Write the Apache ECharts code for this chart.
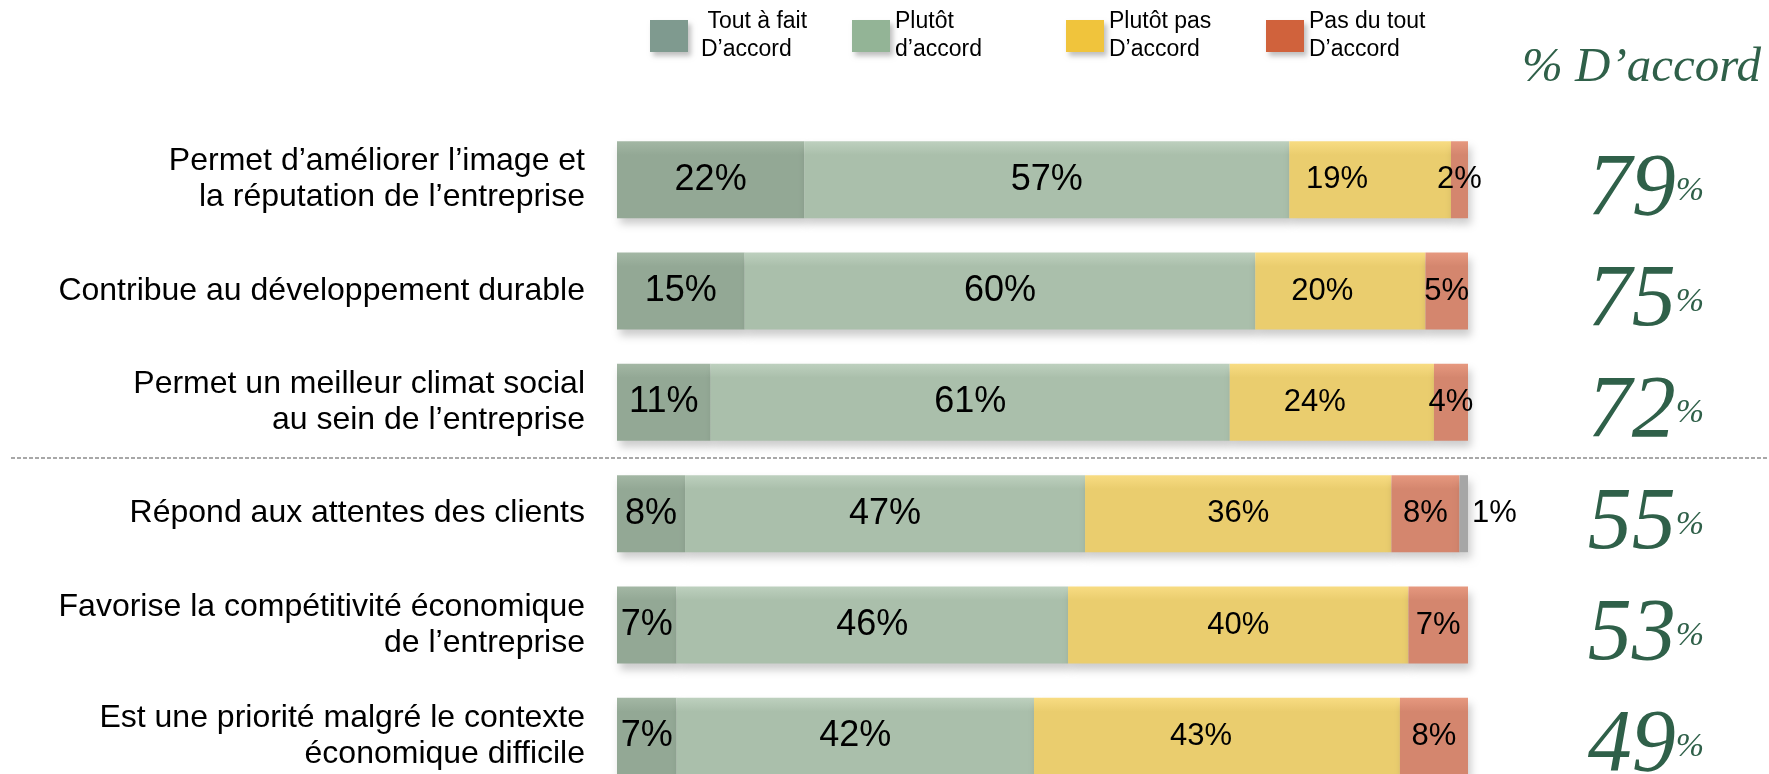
<!DOCTYPE html>
<html>
<head>
<meta charset="utf-8">
<script src="https://cdn.jsdelivr.net/npm/echarts/dist/echarts.min.js"></script>
<style>
  html, body { margin: 0; padding: 0; background: #fff; }
  #main { width: 1769px; height: 774px; }
</style>
</head>
<body>
<div id="main"></div>
<script>
// questions (lignes)
var categories = [
  'Permet d’améliorer l’image et\nla réputation de l’entreprise',
  'Contribue au développement durable',
  'Permet un meilleur climat social\nau sein de l’entreprise',
  'Répond aux attentes des clients',
  'Favorise la compétitivité économique\nde l’entreprise',
  'Est une priorité malgré le contexte\néconomique difficile'
];
// réponses en %
var toutAFait = [22, 15, 11, 8, 7, 7];
var plutot = [57, 60, 61, 47, 46, 42];
var plutotPas = [19, 20, 24, 36, 40, 43];
var pasDuTout = [2, 5, 4, 8, 7, 8];
var nsp = [0, 0, 0, 1, 0, 0];
// % D'accord (colonne de droite)
var totalAccord = ['79', '75', '72', '55', '53', '49'];
var seriesNames = [' Tout à fait\nD’accord', 'Plutôt\nd’accord', 'Plutôt pas\nD’accord', 'Pas du tout\nD’accord'];

var SANS = 'Liberation Sans';
var SERIF = 'Liberation Serif';
var GREEN = '#2f6049';

// décalage manuel des étiquettes jaunes (comme sur la diapo)
var yellowLabelShift = [-33, -18, -17, 0, 0, -16];

function grad(top, base) {
  return new echarts.graphic.LinearGradient(0, 0, 0, 1, [
    { offset: 0, color: top },
    { offset: 0.18, color: base },
    { offset: 1, color: base }
  ]);
}
function pct(p) {
  return p.value ? p.value + '%' : '';
}
var shadow = {
  shadowBlur: 8,
  shadowOffsetX: 3,
  shadowOffsetY: 6,
  shadowColor: 'rgba(0,0,0,0.2)'
};

function barSeries(name, data, top, base, size) {
  return {
    name: name,
    type: 'bar',
    stack: 'total',
    barWidth: 77,
    data: data,
    itemStyle: Object.assign({ color: grad(top, base) }, shadow),
    label: {
      show: true,
      position: 'inside',
      formatter: pct,
      color: '#000',
      fontFamily: SANS,
      fontSize: size
    },
    emphasis: { disabled: true }
  };
}

// légende : une par item pour placer chaque carré
var legendX = [650, 852, 1066, 1266];
var legendColors = ['#7f9a8f', '#93b496', '#f0c43c', '#d0623c'];
var legends = seriesNames.map(function (n, i) {
  return {
    data: [{ name: n, itemStyle: { color: legendColors[i] } }],
    left: legendX[i],
    top: 8,
    padding: 0,
    icon: 'rect',
    itemWidth: 38,
    itemHeight: 32,
    selectedMode: false,
    itemStyle: { shadowBlur: 5, shadowOffsetX: 3, shadowOffsetY: 4, shadowColor: 'rgba(0,0,0,0.25)' },
    textStyle: {
      fontFamily: SANS, fontSize: 23, lineHeight: 28, color: '#000',
      padding: i == 0 ? [0, 0, 0, 8] : 0
    }
  };
});

var yellowData = plutotPas.map(function (v, i) {
  return { value: v, label: { offset: [yellowLabelShift[i], 0] } };
});

var chart = echarts.init(document.getElementById('main'));
chart.setOption({
  animation: false,
  backgroundColor: '#fff',
  title: {
    text: '% D’accord',
    left: 1522,
    top: 44,
    padding: 0,
    textStyle: { fontFamily: SERIF, fontStyle: 'italic', fontWeight: 'normal', fontSize: 49, color: GREEN }
  },
  legend: legends,
  grid: { left: 617, right: 301, top: 124, height: 668, containLabel: false, outerBoundsMode: 'none' },
  xAxis: { type: 'value', min: 0, max: 100, show: false },
  yAxis: [{
    type: 'category',
    inverse: true,
    data: categories,
    axisLine: { show: false },
    axisTick: { show: false },
    splitLine: { show: false },
    axisLabel: {
      margin: 32,
      align: 'right',
      color: '#000',
      fontFamily: SANS,
      fontSize: 32,
      lineHeight: 36
    }
  }, {
    type: 'category',
    inverse: true,
    position: 'right',
    data: totalAccord,
    axisLine: { show: false },
    axisTick: { show: false },
    splitLine: { show: false },
    axisLabel: {
      margin: 178,
      align: 'center',
      formatter: function (v) { return '{n|' + v + '}{p|%}'; },
      rich: {
        n: { fontFamily: SERIF, fontStyle: 'italic', fontSize: 88, color: GREEN, padding: [22, 0, 0, 0] },
        p: { fontFamily: SERIF, fontStyle: 'italic', fontSize: 34, color: GREEN, verticalAlign: 'middle', padding: [22, 0, 0, 0] }
      }
    }
  }],
  series: [
    barSeries(seriesNames[0], toutAFait, '#a3b7a4', '#93a895', 36),
    barSeries(seriesNames[1], plutot, '#bdd0be', '#aabfab', 36),
    barSeries(seriesNames[2], yellowData, '#f8dc82', '#eacd6e', 31),
    barSeries(seriesNames[3], pasDuTout, '#e6987f', '#d4866e', 31),
    {
      name: 'NSP',
      type: 'bar',
      stack: 'total',
      barWidth: 77,
      data: nsp,
      itemStyle: Object.assign({ color: '#a6a6a6' }, shadow),
      label: {
        show: true,
        position: 'right',
        distance: 4,
        formatter: pct,
        color: '#000',
        fontFamily: SANS,
        fontSize: 31
      },
      emphasis: { disabled: true }
    }
  ]
});

// ligne pointillée entre la 3e et la 4e question
var ySep = (chart.convertToPixel({ yAxisIndex: 0 }, categories[2]) +
            chart.convertToPixel({ yAxisIndex: 0 }, categories[3])) / 2;
chart.setOption({
  graphic: [{
    type: 'line',
    shape: { x1: 11, y1: ySep, x2: 1769, y2: ySep },
    style: { stroke: '#8c8c8c', lineWidth: 1.5, lineDash: [4, 2] },
    silent: true
  }]
});
</script>
</body>
</html>
